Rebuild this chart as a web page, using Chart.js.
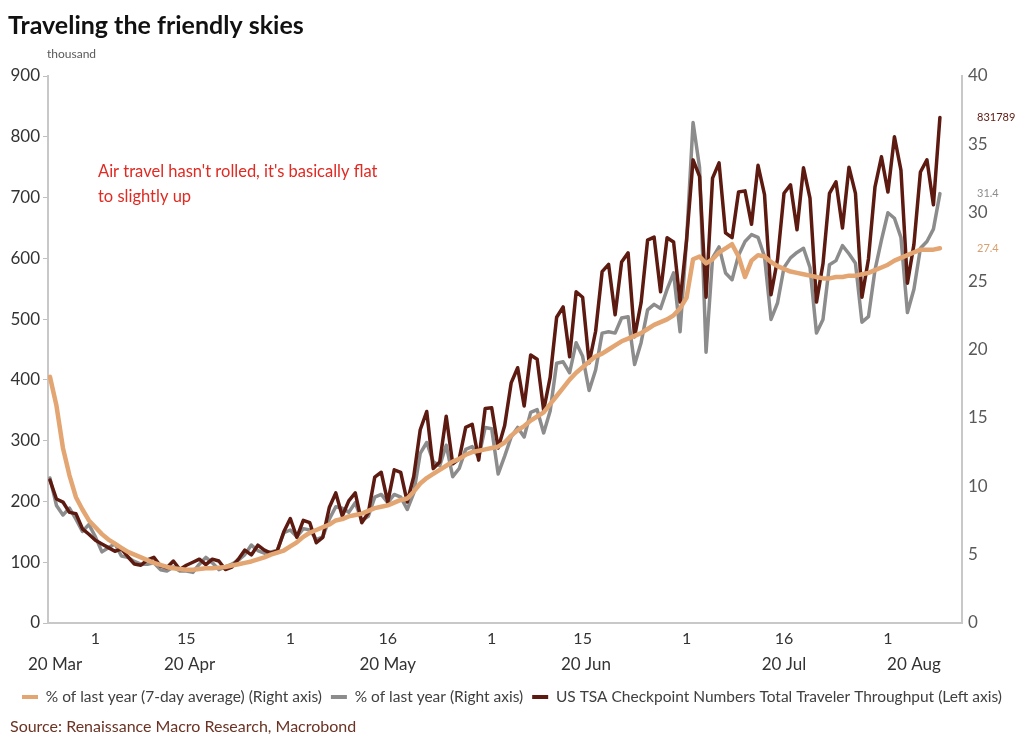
<!DOCTYPE html>
<html>
<head>
<meta charset="utf-8">
<script src="https://cdn.jsdelivr.net/npm/chart.js@4.4.1/dist/chart.umd.min.js"></script>
<style>
  html, body { margin: 0; padding: 0; background: #fff; }
  #wrap { width: 1024px; height: 749px; position: relative; }
</style>
</head>
<body>
<div id="wrap"><canvas id="tsaChart"></canvas></div>
<script>
// daily data from 25 Mar 2020 to 9 Aug 2020
const firstDay = "2020-03-25";

// US TSA checkpoint throughput, thousand (left axis)
const tsaThousands = [
  235, 204, 199, 182, 180, 155, 146,
  136, 130, 124, 118, 122, 109, 97,
  95, 104, 108, 94, 91, 102, 88,
  95, 100, 105, 96, 105, 102, 88,
  92, 105, 120, 112, 128, 120, 115,
  119, 150, 172, 141, 169, 165, 132,
  141, 190, 214, 176, 201, 214, 165,
  181, 240, 248, 199, 252, 248, 199,
  241, 318, 348, 254, 265, 340, 262,
  270, 322, 327, 268, 353, 354, 288,
  325, 395, 420, 357, 441, 434, 350,
  404, 503, 520, 438, 545, 536, 428,
  480, 578, 590, 507, 594, 609, 471,
  527, 630, 635, 545, 634, 627, 528,
  630, 762, 735, 536, 732, 757, 642,
  634, 709, 711, 656, 753, 705, 540,
  598, 707, 721, 647, 749, 699, 528,
  591, 707, 726, 650, 750, 707, 536,
  599, 717, 767, 709, 800, 745, 559,
  623, 742, 762, 688, 831.789
];

// % of last year (right axis)
const pctLastYear = [
  10.6, 8.6, 7.9, 8.4, 7.6, 6.7, 7.2,
  6.3, 5.2, 5.5, 5.8, 4.9, 4.8, 4.5,
  4.3, 4.3, 4.4, 3.9, 3.8, 4.1, 3.8,
  3.8, 3.7, 4.3, 4.8, 4.4, 3.9, 4.1,
  4.3, 4.6, 5.0, 5.7, 5.3, 5.1, 5.2,
  5.3, 6.6, 6.8, 6.3, 6.9, 6.8, 6.1,
  6.3, 7.6, 8.5, 8.4, 8.1, 8.8, 7.5,
  7.8, 9.2, 9.4, 8.8, 9.4, 9.2, 8.3,
  9.5, 12.4, 13.2, 11.8, 11.5, 13.0, 10.7,
  11.3, 12.7, 12.9, 12.1, 14.3, 14.2, 10.9,
  12.2, 13.6, 14.3, 13.6, 15.4, 15.6, 13.9,
  15.5, 19.0, 19.1, 18.3, 20.5, 19.5, 17.0,
  18.5, 21.2, 21.3, 21.2, 22.3, 22.4, 18.9,
  20.5, 22.9, 23.3, 23.0, 24.4, 25.6, 21.3,
  28.0, 36.6, 33.3, 19.8, 26.7, 27.5, 25.6,
  25.1, 26.9, 27.9, 28.4, 28.2, 26.8, 22.2,
  23.4, 26.0, 26.7, 27.1, 27.4, 26.0, 21.2,
  22.2, 26.2, 26.5, 27.6, 27.0, 26.3, 22.0,
  22.4, 25.8, 28.0, 30.0, 29.6, 28.2, 22.7,
  24.4, 27.4, 27.9, 28.8, 31.4
];

// % of last year, 7-day average (right axis)
const pctAvg7 = [
  18.0, 15.9, 12.8, 10.8, 9.2, 8.3, 7.5,
  7.0, 6.5, 6.1, 5.8, 5.5, 5.2, 5.0,
  4.8, 4.6, 4.4, 4.25, 4.1, 4.0, 3.95,
  3.9, 3.9, 3.95, 4.0, 4.0, 4.05, 4.1,
  4.2, 4.3, 4.4, 4.5, 4.65, 4.8, 5.0,
  5.15, 5.3, 5.6, 5.9, 6.3, 6.6, 6.8,
  7.0, 7.2, 7.5, 7.6, 7.8, 7.9, 8.0,
  8.2, 8.4, 8.5, 8.6, 8.8, 9.0, 9.1,
  9.6, 10.2, 10.6, 10.9, 11.2, 11.5, 11.8,
  12.0, 12.3, 12.5, 12.6, 12.7, 12.8, 12.9,
  13.2, 13.7, 14.1, 14.4, 14.8, 15.1, 15.4,
  16.0, 16.6, 17.2, 17.8, 18.3, 18.7, 19.1,
  19.5, 19.7, 20.0, 20.3, 20.6, 20.8, 21.0,
  21.2, 21.5, 21.8, 22.0, 22.2, 22.5, 23.0,
  23.8, 26.6, 26.8, 26.3, 26.6, 27.1, 27.4,
  27.7, 26.8, 25.3, 26.5, 26.9, 26.8, 26.4,
  26.1, 25.9, 25.7, 25.6, 25.5, 25.4, 25.3,
  25.2, 25.2, 25.3, 25.3, 25.4, 25.4, 25.5,
  25.6, 25.8, 26.0, 26.2, 26.5, 26.7, 26.9,
  27.1, 27.3, 27.3, 27.3, 27.4
];

const tickDates = ["2020-04-01", "2020-04-15", "2020-05-01", "2020-05-16", "2020-06-01",
                   "2020-06-15", "2020-07-01", "2020-07-16", "2020-08-01"];
const monthLabels = ["20 Mar", "20 Apr", "20 May", "20 Jun", "20 Jul", "20 Aug"];
const noteLines = ["Air travel hasn't rolled, it's basically flat", "to slightly up"];

const DAY = 86400000;
const t0 = Date.parse(firstDay);
const days = tsaThousands.map((_, i) => new Date(t0 + i * DAY));
const dayIndex = s => Math.round((Date.parse(s) - t0) / DAY);
const xy = arr => arr.map((v, i) => ({ x: i, y: v }));

const FONT = "Lato";
const cDark = "#5c1a10", cGray = "#8c8c8c", cOrange = "#e3a572";

const decor = {
  id: "decor",
  afterDraw(chart) {
    const { ctx, chartArea } = chart;
    const x = chart.scales.x;
    ctx.save();
    ctx.textBaseline = "middle";
    ctx.textAlign = "left";

    ctx.font = "bold 25px " + FONT;
    ctx.fillStyle = "#111";
    ctx.fillText("Traveling the friendly skies", 8, 26);

    ctx.font = "12px " + FONT;
    ctx.fillStyle = "#595959";
    ctx.fillText("thousand", 47, 54);

    ctx.font = "16.5px " + FONT;
    ctx.fillStyle = "#e02a22";
    ctx.fillText(noteLines[0], 98, 172);
    ctx.fillText(noteLines[1], 98, 197);

    // month row under the day ticks
    ctx.font = "17px " + FONT;
    ctx.fillStyle = "#333";
    monthLabels.forEach((name, m) => {
      const idx = days.map((d, i) => d.getUTCMonth() === m + 2 ? i : -1).filter(i => i >= 0);
      if (!idx.length) return;
      const a = idx[0], b = idx[idx.length - 1];
      if (days[a].getUTCDate() !== 1) {
        ctx.textAlign = "left";
        ctx.fillText(name, chartArea.left - 20, 665);
      } else {
        ctx.textAlign = "center";
        ctx.fillText(name, (x.getPixelForValue(a) + x.getPixelForValue(b)) / 2, 665);
      }
    });

    // last values at the right edge
    ctx.font = "11px " + FONT;
    ctx.textAlign = "left";
    chart.data.datasets.forEach((ds, di) => {
      const meta = chart.getDatasetMeta(di);
      const pt = meta.data[meta.data.length - 1];
      const v = ds.data[ds.data.length - 1].y;
      ctx.fillStyle = ds.endColor;
      ctx.fillText(di === 2 ? String(Math.round(v * 1000)) : v.toFixed(1), 977, pt.y);
    });

    ctx.font = "16px " + FONT;
    ctx.fillStyle = "#6a3324";
    ctx.fillText("Source: Renaissance Macro Research, Macrobond", 10, 727);
    ctx.restore();
  }
};

new Chart(document.getElementById("tsaChart"), {
  type: "line",
  data: {
    datasets: [{
      label: "% of last year (7-day average) (Right axis)",
      data: xy(pctAvg7),
      yAxisID: "yR",
      borderColor: cOrange,
      backgroundColor: cOrange,
      endColor: "#d9a06f",
      borderWidth: 4.5,
      order: 0
    }, {
      label: "% of last year (Right axis)",
      data: xy(pctLastYear),
      yAxisID: "yR",
      borderColor: cGray,
      backgroundColor: cGray,
      endColor: "#8c8c8c",
      borderWidth: 3.5,
      order: 2
    }, {
      label: "US TSA Checkpoint Numbers Total Traveler Throughput (Left axis)",
      data: xy(tsaThousands),
      yAxisID: "yL",
      borderColor: cDark,
      backgroundColor: cDark,
      endColor: cDark,
      borderWidth: 3.5,
      order: 1
    }]
  },
  options: {
    responsive: true,
    maintainAspectRatio: false,
    animation: false,
    layout: { padding: { top: 76, left: 0, right: 0, bottom: 34.25 } },
    elements: {
      point: { radius: 0 },
      line: { tension: 0, borderJoinStyle: "round", borderCapStyle: "round" }
    },
    scales: {
      x: {
        type: "linear",
        min: -0.3,
        max: 140.4,
        grid: { display: false, drawTicks: false },
        border: { display: true, color: "#c8c8c8", width: 2 },
        afterBuildTicks: s => { s.ticks = tickDates.map(d => ({ value: dayIndex(d) })); },
        afterFit: s => { s.height = 57.25; },
        ticks: {
          autoSkip: false,
          maxRotation: 0,
          padding: 6,
          color: "#333",
          font: { family: FONT, size: 16 },
          callback: v => String(days[v].getUTCDate())
        }
      },
      yL: {
        position: "left",
        min: 0,
        max: 900,
        grid: { display: true, drawOnChartArea: false, drawTicks: true, tickLength: 5, color: "#bfbfbf" },
        border: { display: true, color: "#c8c8c8", width: 2 },
        afterFit: s => { s.width = 48; },
        ticks: { stepSize: 100, padding: 3, color: "#333", font: { family: FONT, size: 17 } }
      },
      yR: {
        position: "right",
        min: 0,
        max: 40,
        grid: { display: false, drawTicks: false },
        border: { display: true, color: "#c8c8c8", width: 2 },
        afterFit: s => { s.width = 62; },
        ticks: { stepSize: 5, padding: 6, color: "#595959", font: { family: FONT, size: 17 } }
      }
    },
    plugins: {
      tooltip: { enabled: false },
      title: { display: false },
      legend: {
        position: "bottom",
        labels: {
          boxWidth: 16,
          boxHeight: 4,
          padding: 9,
          color: "#404040",
          font: { family: FONT, size: 15.5 },
          sort: (a, b) => a.datasetIndex - b.datasetIndex,
          generateLabels: chart => Chart.defaults.plugins.legend.labels.generateLabels(chart)
            .map(l => Object.assign(l, { lineWidth: 0, fillStyle: l.strokeStyle }))
        }
      }
    }
  },
  plugins: [decor]
});
</script>
</body>
</html>
